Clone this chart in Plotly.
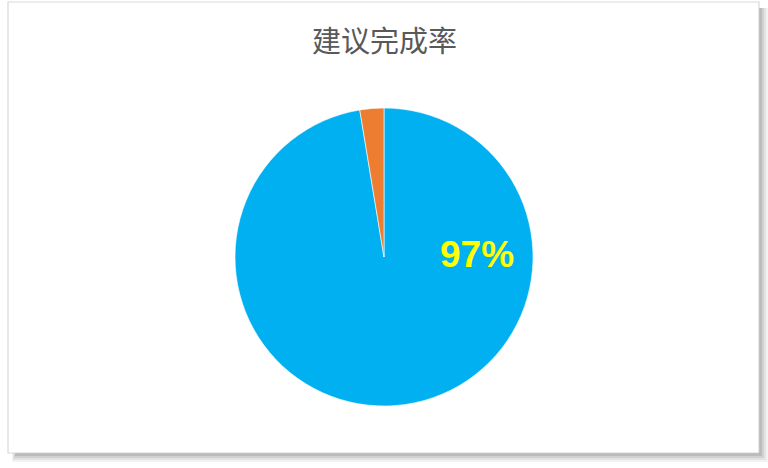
import plotly.graph_objects as go

labels = ["已完成", "未完成"]
values = [97.4, 2.6]
colors = ["#00B0F0", "#ED7D31"]
title_text = "建议完成率"
pct_label = "97%"

fig = go.Figure()
fig.add_trace(go.Pie(
    labels=labels,
    values=values,
    sort=False,
    direction="clockwise",
    rotation=0,
    marker=dict(colors=colors, line=dict(color="white", width=0.6)),
    textinfo="none",
    hoverinfo="label+percent",
    showlegend=False,
    domain=dict(x=[235/768, 533/768], y=[62/468, 360/468]),
))

# chart frame with soft shadow (like an Excel chart object)
shapes = []
for i, op in enumerate([0.05, 0.06, 0.08, 0.10, 0.12]):
    off = 9 - i * 2
    shapes.append(dict(type="rect", xref="paper", yref="paper",
                       x0=(12 + i) / 768, x1=(759 + off) / 768,
                       y0=(468 - 453 - off) / 468, y1=(468 - 8) / 468,
                       fillcolor="rgba(0,0,0,%s)" % op, line=dict(width=0),
                       layer="below"))
shapes.append(dict(type="rect", xref="paper", yref="paper",
                   x0=8/768, x1=759/768, y0=(468-453)/468, y1=(468-2)/468,
                   fillcolor="white", line=dict(color="#D9D9D9", width=1.2),
                   layer="below"))

fig.update_layout(
    width=768, height=468,
    margin=dict(l=0, r=0, t=0, b=0),
    paper_bgcolor="white",
    shapes=shapes,
    annotations=[
        dict(text=title_text, x=384/768, y=1 - 39/468, xref="paper", yref="paper",
             showarrow=False, xanchor="center", yanchor="middle",
             font=dict(family="Noto Sans CJK SC", size=29, color="#595959")),
        dict(text="<b>%s</b>" % pct_label, x=477/768, y=1 - 255/468,
             xref="paper", yref="paper", showarrow=False,
             xanchor="center", yanchor="middle",
             font=dict(family="Liberation Sans, Arial", size=37, color="#FFFF00")),
    ],
)

fig.write_html("out.html", config={"displayModeBar": False},
               post_script="document.body.style.margin='0';")
